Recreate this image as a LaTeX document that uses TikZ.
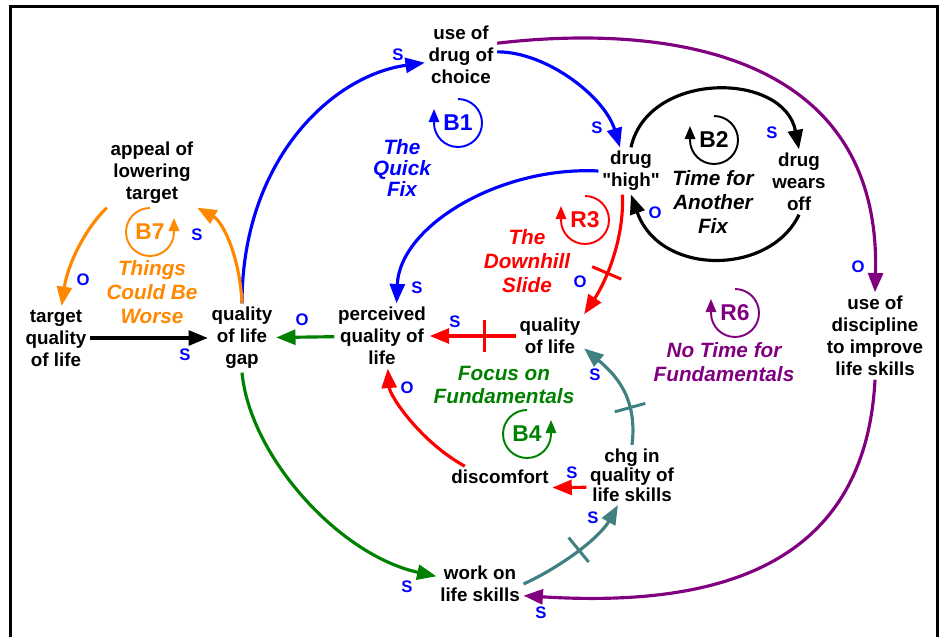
\documentclass[tikz,border=0pt]{standalone}
\usepackage{fontspec}
\setmainfont{Liberation Sans}[Ligatures=TeXOff]
\usetikzlibrary{arrows.meta}
\definecolor{polblue}{RGB}{0,0,255}
\definecolor{loopred}{RGB}{255,0,0}
\definecolor{loopgreen}{RGB}{0,128,0}
\definecolor{loopteal}{RGB}{64,128,128}
\definecolor{looppurple}{RGB}{128,0,128}
\definecolor{looporange}{RGB}{255,136,0}

\begin{document}
\begin{tikzpicture}[x=0.02cm, y=0.02cm,
    var/.style={align=center, inner sep=2pt, font=\fontsize{10.7}{12.5}\selectfont\bfseries},
    pol/.style={inner sep=0pt, text=polblue, font=\fontsize{9.5}{10}\selectfont\bfseries},
    loopname/.style={align=center, inner sep=0pt, font=\fontsize{11.8}{13.5}\selectfont\bfseries\itshape},
    looptag/.style={inner sep=0pt, font=\fontsize{13}{14}\selectfont\bfseries},
    link/.style={-{Triangle[length=11pt,width=8.5pt]}, line width=1.8pt},
    loopmark/.style={-{Triangle[length=7.5pt,width=6pt]}, line width=1.1pt},
    delay/.style={draw, line width=1.7pt, minimum height=18pt, minimum width=0pt, inner sep=0pt, sloped, allow upside down}
]
\useasboundingbox (0,0) rectangle (940,636);

% Frame
\draw[line width=1.7pt] (10.5,-20) -- (10.5,629.5) -- (937,629.5) -- (937,-20);

% Variables
\node[var] (drug) at (461,581) {use of\\drug of\\choice};
\node[var] (high) at (631,465) {drug\\"high"};
\node[var] (wears) at (799,454) {drug\\wears\\off};
\node[var] (appeal) at (152,463) {appeal of\\lowering\\target};
\node[var] (target) at (56,298) {target\\quality\\of life};
\node[var] (gap) at (242,298) {quality\\of life\\gap};
\node[var] (perc) at (382,300) {perceived\\quality of\\life};
\node[var] (qol) at (550,300) {quality\\of life};
\node[var] (disc) at (875,300) {use of\\discipline\\to improve\\life skills};
\node[var] (discomfort) at (500,159) {discomfort};
\node[var, font=\fontsize{10.7}{11}\selectfont\bfseries] (chg) at (632,161) {chg in\\quality of\\life skills};
\node[var] (work) at (480,52) {work on\\life skills};

% Links
\draw[link, blue] (gap.north) .. controls +(0,142) and +(-94,-13) .. (drug.192);
\draw[link, blue] (drug.5) .. controls +(50,0) and +(-15,50) .. (high.115);
\draw[link, looppurple] (drug.18) .. controls +(143,17) and +(7,254) .. (disc.north);
\draw[link, black] (high.north) .. controls +(17,77) and +(-15,78) .. (wears.north);
\draw[link, black] (wears.south) .. controls +(-29,-61) and +(29,-82) .. (high.south);
\draw[link, blue] (high.west) .. controls +(-99,5) and +(3,77) .. (perc.66);
\draw[link, loopred] (high.250) .. controls +(2,-44) and +(22,33) .. node[delay, pos=0.62] (d1) {} (qol.north east);
\draw[link, loopred] (qol) -- node[delay, pos=0.36] (d2) {} (perc);
\draw[link, loopgreen] (perc) -- (gap);
\draw[link, black] (target.east) -- (gap.west);
\draw[link, looporange] (gap.north) .. controls +(-2,44) and +(27,-15) .. (appeal.south east);
\draw[link, looporange] (appeal.south west) .. controls +(-21,-20) and +(6,42) .. (target.80);
\draw[link, loopgreen] (gap.south) .. controls +(8,-84) and +(-97,21) .. (work.170);
\draw[link, loopteal] (work.east) .. controls +(39,18) and +(-18,-32) .. node[delay, pos=0.5] (d3) {} (chg.245);
\draw[link, loopteal] (chg.north) .. controls +(6,48) and +(30,-25) .. node[delay, pos=0.3] (d4) {} (qol.-20);
\draw[link, loopred] ([yshift=-7pt]chg.west) -- ([yshift=-6pt]discomfort.east);
\draw[link, loopred] (discomfort.163) .. controls +(-45,25) and +(2,-27) .. (perc.-80);
\draw[link, looppurple] (disc.south) .. controls +(-10,-196) and +(179,-11) .. (work.-15);

% Polarities
\node[pol] (p1) at (398,581) {S};
\node[pol] (p2) at (597,508) {S};
\node[pol] (p3) at (772,503) {S};
\node[pol] (p4) at (655,423) {O};
\node[pol] (p5) at (580,354) {O};
\node[pol] (p6) at (858,369) {O};
\node[pol] (p7) at (417,348) {S};
\node[pol] (p8) at (455,314) {S};
\node[pol] (p9) at (302,316) {O};
\node[pol] (p10) at (197,401) {S};
\node[pol] (p11) at (83,356) {O};
\node[pol] (p12) at (185,281) {S};
\node[pol] (p13) at (407,248) {O};
\node[pol] (p14) at (595,261) {S};
\node[pol] (p15) at (572,163) {S};
\node[pol] (p16) at (593,118) {S};
\node[pol] (p17) at (407,49) {S};
\node[pol] (p18) at (541,23) {S};

% Loops
\node[looptag, text=blue] (B1) at (458,513) {B1};
\draw[loopmark, blue] (B1) ++(0,24) arc[start angle=90, end angle=-180, radius=24] -- ++(0,14);
\node[loopname, text=blue, font=\fontsize{11.8}{12}\selectfont\bfseries\itshape] (quickfix) at (402,468) {The\\Quick\\Fix};

\node[looptag] (B2) at (714,496) {B2};
\draw[loopmark, black] (B2) ++(0,24) arc[start angle=90, end angle=-180, radius=24] -- ++(0,14);
\node[loopname] (anotherfix) at (713,434) {Time for\\Another\\Fix};

\node[looptag, text=loopred] (R3) at (585,416) {R3};
\draw[loopmark, loopred] (R3) ++(0,24) arc[start angle=90, end angle=-180, radius=24] -- ++(0,14);
\node[loopname, text=loopred] (downhill) at (527,375) {The\\Downhill\\Slide};

\node[looptag, text=looporange] (B7) at (150,404) {B7};
\draw[loopmark, looporange] (B7) ++(0,24) arc[start angle=90, end angle=360, radius=24] -- ++(0,14);
\node[loopname, text=looporange] (worse) at (152,344) {Things\\Could Be\\Worse};

\node[looptag, text=looppurple] (R6) at (735,323) {R6};
\draw[loopmark, looppurple] (R6) ++(0,24) arc[start angle=90, end angle=-180, radius=24] -- ++(0,14);
\node[loopname, text=looppurple] (notime) at (724,274) {No Time for\\Fundamentals};

\node[looptag, text=loopgreen] (B4) at (527,202) {B4};
\draw[loopmark, loopgreen] (B4) ++(0,24) arc[start angle=90, end angle=360, radius=24] -- ++(0,14);
\node[loopname, text=loopgreen] (focus) at (504,251) {Focus on\\Fundamentals};

\end{tikzpicture}
\end{document}
